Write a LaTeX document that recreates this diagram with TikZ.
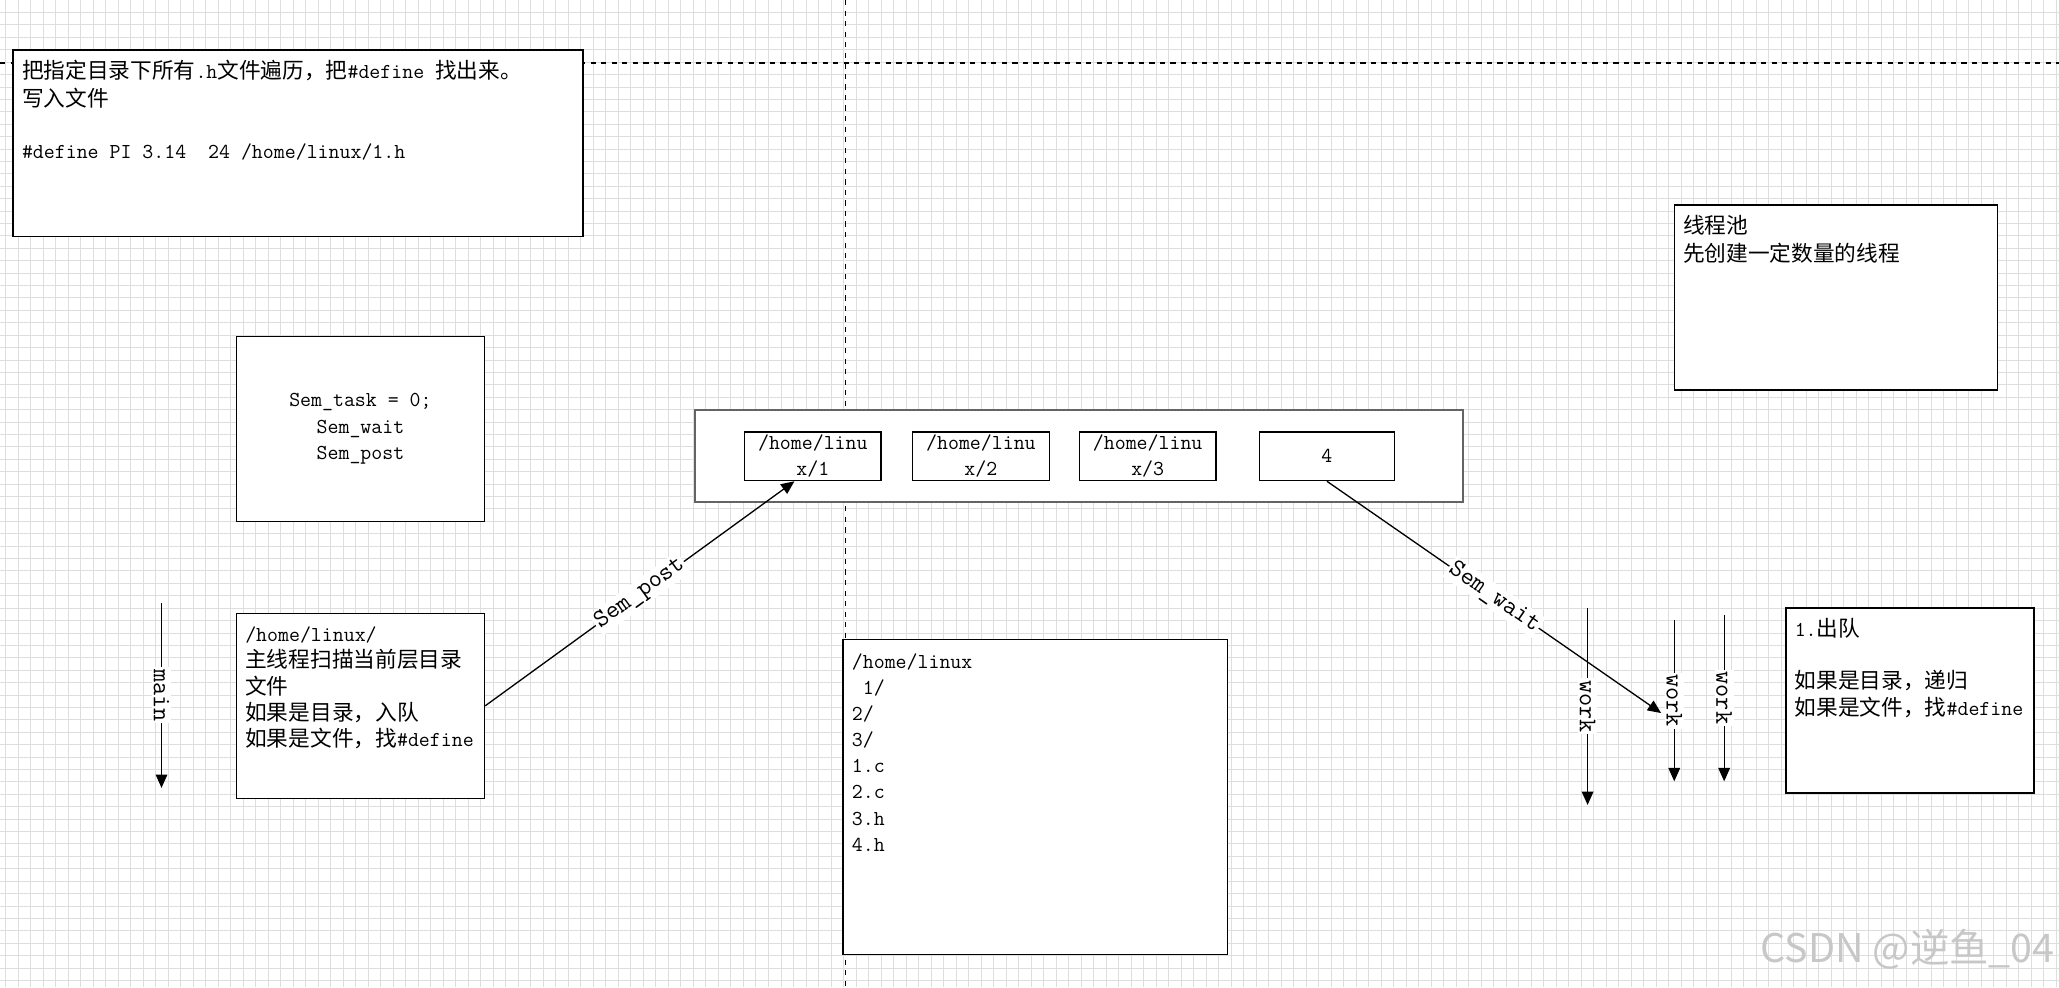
\documentclass[tikz,border=0pt]{standalone}
\usepackage{fontspec}
\usetikzlibrary{arrows.meta,calc,fit}
\newfontfamily\cjk{Noto Sans CJK SC}[Scale=1.02]
\newcommand\zh[1]{{\cjk #1}}
\definecolor{figline}{RGB}{0,0,0}
\definecolor{figgrid}{RGB}{222,222,222}
\definecolor{figqueue}{RGB}{100,100,100}
\tikzset{
  box/.style   ={draw=figline, fill=white, line width=0.75pt, inner sep=0pt},
  qbox/.style  ={draw=figqueue, fill=white, line width=1.1pt, inner sep=0pt},
  txt/.style   ={font=\ttfamily\fontsize{12.1}{14.9}\selectfont, align=left, inner sep=0pt, anchor=north west},
  ctxt/.style  ={font=\ttfamily\fontsize{12.1}{14.6}\selectfont, align=center, inner sep=0pt},
  flow/.style  ={draw=figline, line width=0.75pt, -{Triangle[length=7.6pt,width=6.6pt]}},
  lab/.style   ={font=\ttfamily\fontsize{14.5}{14.5}\selectfont, fill=white, inner sep=1pt},
  gridln/.style={draw=figgrid, line width=0.4pt},
  guide/.style ={draw=figline, line width=0.7pt, dash pattern=on 3pt off 3pt},
}
\begin{document}
\begin{tikzpicture}[x=0.02626cm, y=-0.02626cm]
  \useasboundingbox (0,0) rectangle (1568,752);
  \fill[white] (0,0) rectangle (1568,752);
  % background grid
  \foreach \gx in {0,...,164} \draw[gridln] ({4.4+9.52*\gx},0) -- ({4.4+9.52*\gx},752);
  \foreach \gy in {1,...,79} \draw[gridln] (0,{9.45*\gy}) -- (1568,{9.45*\gy});
  \draw[guide] (0,48) -- (1568,48);
  \draw[guide] (644,0) -- (644,752);

  % boxes
  \node[box, fit={(10,38) (444,180)}] (task) {};
  \node[txt] (taskT) at ([shift={(7,8)}]task.north west)
    {\strut\zh{把指定目录下所有}.h\zh{文件遍历，把}\#define \zh{找出来。}\\
     \zh{写入文件}\\ ~\\ \#define PI 3.14\ \ 24 /home/linux/1.h};
  \node[box, fit={(180,256) (369,397)}] (sem) {};
  \node[ctxt, font=\ttfamily\fontsize{12.1}{14.9}\selectfont] (semT) at (sem.center)
    {Sem\_task = 0;\\ Sem\_wait\\ Sem\_post};
  \node[box, fit={(1275,156) (1521,297)}] (pool) {};
  \node[txt] (poolT) at ([shift={(7,8)}]pool.north west)
    {\strut\zh{线程池}\\ \zh{先创建一定数量的线程}};

  \node[qbox, fit={(529,312) (1114,382)}] (queue) {};
  \node[box, fit={(567,329) (671,366)}] (q1) {};
  \node[box, fit={(695,329) (799,366)}] (q2) {};
  \node[box, fit={(822,329) (926,366)}] (q3) {};
  \node[box, fit={(959,329) (1062,366)}] (q4) {};
  \node[ctxt] (q1T) at (q1.center) {/home/linu\\ x/1};
  \node[ctxt] (q2T) at (q2.center) {/home/linu\\ x/2};
  \node[ctxt] (q3T) at (q3.center) {/home/linu\\ x/3};
  \node[ctxt] (q4T) at (q4.center) {4};

  \node[box, fit={(180,467) (369,608)}] (scan) {};
  \node[txt] (scanT) at ([shift={(7,8)}]scan.north west)
    {\strut/home/linux/\\ \zh{主线程扫描当前层目录}\\ \zh{文件}\\
     \zh{如果是目录，入队}\\ \zh{如果是文件，找}\#define};
  \node[box, fit={(642,487) (935,727)}] (dir) {};
  \node[txt] (dirT) at ([shift={(7,8)}]dir.north west)
    {\strut/home/linux\\ ~1/\\ 2/\\ 3/\\ 1.c\\ 2.c\\ 3.h\\ 4.h};
  \node[box, fit={(1360,463) (1549,604)}] (deq) {};
  \node[txt] (deqT) at ([shift={(7,8)}]deq.north west)
    {\strut 1.\zh{出队}\\ ~\\ \zh{如果是目录，递归}\\ \zh{如果是文件，找}\#define};

  % threads
  \coordinate (mainS) at (123,459);
  \coordinate (mainE) at (123,600);
  \draw[flow] (mainS) -- node[lab, sloped] (mainL) {main} (mainE);
  \coordinate (w1S) at (1209,463);
  \coordinate (w1E) at (1209,613);
  \coordinate (w2S) at (1275,472);
  \coordinate (w2E) at (1275,595);
  \coordinate (w3S) at (1313,468);
  \coordinate (w3E) at (1313,595);
  \draw[flow] (w1S) -- node[lab, sloped] (w1L) {work} (w1E);
  \draw[flow] (w2S) -- node[lab, sloped] (w2L) {work} (w2E);
  \draw[flow] (w3S) -- node[lab, sloped] (w3L) {work} (w3E);

  % semaphores
  \draw[flow] (scan.east) -- node[lab, sloped] (postL) {Sem\_post} ([shift={(-14,0)}]q1.south);
  \coordinate (waitE) at (1265,543);
  \draw[flow] (q4.south) -- node[lab, sloped] (waitL) {Sem\_wait} (waitE);

  \node[font=\cjk\fontsize{22}{22}\selectfont, text=black!22, anchor=east, inner sep=0pt] (mark) at (1565,723) {CSDN @逆鱼\_04};
\end{tikzpicture}
\end{document}
